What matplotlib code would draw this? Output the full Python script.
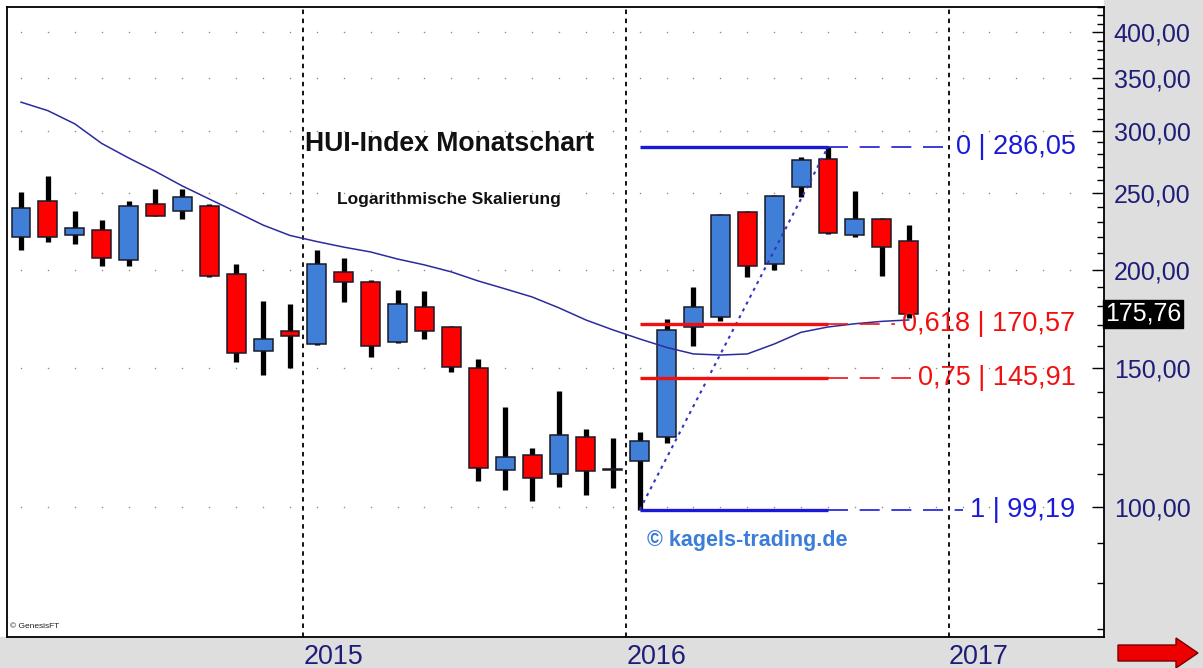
import numpy as np
import pandas as pd
import matplotlib
matplotlib.use('Agg')
import matplotlib.pyplot as plt
from matplotlib.patches import Rectangle, Polygon
from matplotlib.ticker import NullFormatter
from matplotlib.transforms import blended_transform_factory

# monthly candles, Feb 2014 - Nov 2016
months = pd.period_range('2014-02', '2016-11', freq='M')
opens = [220, 244, 221, 224.5, 205.5, 242, 237, 241, 197.3, 157.5, 167.2,
         161, 198.8, 193, 162, 179, 169.3, 150, 111.5, 116.4, 110.1, 122.6, 111.3,
         114.2, 122.6, 169.3, 174.3, 236.3, 203.3, 254.3, 275.8, 220.9, 231.8, 217.6]
highs = [251, 263, 237.5, 231, 244, 253, 253, 242, 203, 182.5, 180.8,
         212, 207, 193.8, 188.6, 188, 169.8, 154, 133.8, 118.8, 140.2, 125.6, 122.2,
         124.6, 173.1, 190, 235, 237.5, 248.6, 277.6, 286.05, 251.7, 232.7, 227.6]
lows = [211.5, 217, 215.5, 202, 202, 233.5, 232, 195.5, 152.5, 146.8, 150,
        160.5, 182, 155, 161.5, 163.3, 148.4, 107.9, 105.2, 101.6, 106, 103.4, 105.8,
        99.19, 120.5, 160, 171.9, 195.5, 199.6, 247.3, 222, 220.2, 196, 173.5]
closes = [239, 220, 226, 207, 241, 234, 247, 196, 156.8, 163.3, 164.5,
          203, 192.8, 160, 180.6, 167.3, 150.4, 112, 115.6, 108.9, 123.2, 111.2, 111.6,
          121.1, 167.8, 179, 234.6, 202, 247.6, 275.5, 222.5, 231.8, 213.4, 175.76]
# moving average
ma = [326, 318, 306, 289, 277, 266.3, 255.2, 245.7, 236.6, 227.7, 220.9,
      217, 213.5, 210.5, 206.2, 202.7, 198.6, 193.4, 189, 184.6, 178.8, 172.6, 167.7,
      163.3, 159.3, 156.3, 155.8, 156.3, 160.9, 166.5, 169.1, 170.7, 171.9, 172.6]

fib_high = 286.05
fib_low = 99.19
fib_ratios = [0, 0.618, 0.75, 1]
fib_labels = ['0 | 286,05', '0,618 | 170,57', '0,75 | 145,91', '1 | 99,19']
fib_colors = ['#1a1ad6', '#f01010', '#f01010', '#1a1ad6']

price_ticks = [100, 150, 200, 250, 300, 350, 400]
price_minor = [v for v in range(70, 431, 10) if v not in price_ticks]
years = ['2015', '2016', '2017']
last_price = 175.76

W, H = 1203, 668
navy = '#1e1e78'
plt.rcParams['font.family'] = ['Liberation Sans', 'DejaVu Sans']

fig = plt.figure(figsize=(W / 100, H / 100), dpi=100)
fig.patch.set_facecolor('white')
# grey side panels
fig.add_artist(Rectangle((1104 / W, 0), 1, 1, transform=fig.transFigure,
                         color='#dedede', zorder=0))
fig.add_artist(Rectangle((0, 0), 1, 31 / H, transform=fig.transFigure,
                         color='#dedede', zorder=0))

ax = fig.add_axes([7 / W, 31 / H, 1097 / W, 630 / H])
ax.set_facecolor('white')
ax.set_yscale('log')
ax.set_ylim(68.4, 430.4)
ax.set_xlim(0.48, 41.26)

# month index, Jan 2014 = 0
x = np.array((months.year - 2014) * 12 + months.month - 1)

# dotted grid
grid_x = np.arange(1, 42)
for lvl in price_ticks:
    ax.scatter(grid_x, [lvl] * len(grid_x), s=1.2, color='#8c8c8c', lw=0, zorder=1)

# year separators
year_pos = [(int(y) - 2014) * 12 - 0.5 for y in years]
for xv in year_pos:
    ax.axvline(xv, color='black', lw=1.3, ls=(0, (2.5, 2.5)), zorder=1)

# candles
o = np.array(opens)
c = np.array(closes)
ax.vlines(x, lows, highs, color='black', lw=3.8, zorder=3)
body_colors = ['#3f7fd8' if cc >= oo else '#ff0000' for oo, cc in zip(o, c)]
ax.bar(x, c - o, bottom=o, width=0.7, color=body_colors,
       edgecolor='#1a1a28', linewidth=1.1, zorder=4)

# moving average
ax.plot(x, ma, color='#2b2b9e', lw=1.1, zorder=5)

# fibonacci retracement
i_low = int(np.argmin(lows))
i_high = int(np.argmax(highs))
ax.plot([x[i_low], x[i_high]], [fib_low, fib_high], color='#3434c0', lw=1.5,
        ls=(0, (1.5, 2.2)), zorder=6)

texts = []
levels = []
for r, lab, col in zip(fib_ratios, fib_labels, fib_colors):
    lvl = fib_high - r * (fib_high - fib_low)
    levels.append(lvl)
    ax.plot([x[i_low], x[i_high]], [lvl, lvl], color=col, lw=2.4,
            solid_capstyle='butt', zorder=6)
    t = ax.text(40.2, lvl, lab, ha='right', va='center', fontsize=19.5,
                color=col, zorder=7)
    texts.append(t)

fig.canvas.draw()
renderer = fig.canvas.get_renderer()
inv = ax.transData.inverted()
for t, lvl, col in zip(texts, levels, fib_colors):
    bb = t.get_window_extent(renderer)
    x_end = inv.transform((bb.x0 - 7, 0))[0]
    ax.plot([x[i_high], x_end], [lvl, lvl], color=col, lw=1.2,
            ls=(0, (12, 7)), zorder=6)

# texts
ax.text(0.4038, 0.7825, 'HUI-Index Monatschart', transform=ax.transAxes,
        ha='center', va='center', fontsize=19.2, fontweight='bold', color='#111111')
ax.text(0.4029, 0.6937, 'Logarithmische Skalierung', transform=ax.transAxes,
        ha='center', va='center', fontsize=12.5, fontweight='bold', color='#111111')
ax.text(0.6746, 0.1524, '© kagels-trading.de', transform=ax.transAxes,
        ha='center', va='center', fontsize=15.5, fontweight='bold', color='#3b7dd8')
fig.text(10 / W, 1 - 627 / H, '© GenesisFT', fontsize=6, va='center',
         color='#222222')

# right price axis
ax.yaxis.tick_right()
ax.set_yticks(price_ticks)
ax.set_yticklabels([f'{v:.2f}'.replace('.', ',') for v in price_ticks])
ax.set_yticks(price_minor, minor=True)
ax.yaxis.set_minor_formatter(NullFormatter())
ax.tick_params(axis='y', which='major', direction='in', length=9, width=1,
               pad=7, labelsize=18, labelcolor=navy)
ax.tick_params(axis='y', which='minor', direction='in', length=5, width=1)

# year axis
ax.set_xticks(year_pos)
ax.set_xticklabels(years, ha='left')
ax.tick_params(axis='x', length=0, pad=5, labelsize=19.4, labelcolor=navy)

for sp in ax.spines.values():
    sp.set_color('black')
    sp.set_linewidth(1.3)

# last price marker
trans = blended_transform_factory(ax.transAxes, ax.transData)
ax.text(1.0 + 1 / 1097, last_price, f'{last_price:.2f}'.replace('.', ','),
        transform=trans, ha='left', va='center', fontsize=18, color='white',
        bbox=dict(boxstyle='square,pad=0.08', facecolor='black', edgecolor='black'),
        clip_on=False, zorder=10)

# red arrow bottom right
arrow_px = [(1118, 645), (1176, 645), (1176, 638), (1198, 653),
            (1176, 668), (1176, 661), (1118, 661)]
fig.add_artist(Polygon([(px / W, 1 - py / H) for px, py in arrow_px],
                       closed=True, transform=fig.transFigure,
                       facecolor='#ee0000', edgecolor='#7a0000', lw=1, zorder=5))

fig.savefig('out.png', dpi=100)
